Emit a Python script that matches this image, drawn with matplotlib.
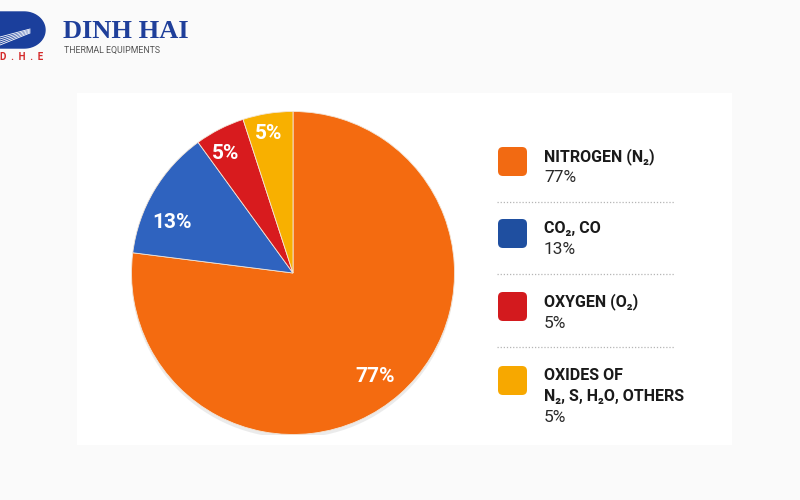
import numpy as np
import matplotlib.pyplot as plt
from matplotlib.patches import FancyBboxPatch, Rectangle, Circle

# Data
labels = ["NITROGEN (N\u2082)", "CO\u2082, CO", "OXYGEN (O\u2082)", "OXIDES OF\nN\u2082, S, H\u2082O, OTHERS"]
shares = [77, 13, 5, 5]
pie_colors = ["#F46B10", "#2F63BF", "#D81B1E", "#F8B000"]
legend_colors = ["#F26A12", "#1F4FA0", "#D31A1E", "#F7A800"]

FONT = ["Roboto", "DejaVu Sans"]
plt.rcParams['font.family'] = FONT

fig = plt.figure(figsize=(8, 5), dpi=100, facecolor="#fafafa")

# overlay in pixel coordinates (y down)
bg = fig.add_axes([0, 0, 1, 1], zorder=0)
bg.set_xlim(0, 800)
bg.set_ylim(500, 0)
bg.axis("off")
bg.add_patch(Rectangle((77, 93), 655, 352, facecolor="white", edgecolor="none"))

# pie: center (293, 273) px, radius 161.5 px
cx, cy, r = 293, 273, 161.5
ax = fig.add_axes([(cx - r) / 800, (500 - cy - r) / 500, 2 * r / 800, 2 * r / 500], zorder=2)
ax.add_patch(Circle((0, -0.022), 1.0, facecolor="#d8d8d8", edgecolor="none", alpha=0.5, zorder=0))
wedges, _ = ax.pie(shares, colors=pie_colors, startangle=90, counterclock=False,
                   wedgeprops=dict(edgecolor="#f3e6d8", linewidth=0.6))
ax.set_xlim(-1, 1)
ax.set_ylim(-1, 1)
ax.set_aspect("equal")
ax.axis("off")

# label placement: radius and angle nudge per slice
label_r = [0.82, 0.81, 0.85, 0.88]
label_shift = [-3, 8, 2.5, 1]
for w, s, lr, sh in zip(wedges, shares, label_r, label_shift):
    mid = np.deg2rad((w.theta1 + w.theta2) / 2 + sh)
    ax.text(lr * np.cos(mid), lr * np.sin(mid), f"{s}%", color="white",
            fontsize=15, fontweight="bold", ha="center", va="center")

# legend
row_tops = [146, 218, 291, 365]
for i, (lab, s, col) in enumerate(zip(labels, shares, legend_colors)):
    top = row_tops[i]
    bg.add_patch(FancyBboxPatch((498, top + 1), 29, 29, boxstyle="round,pad=0,rounding_size=5",
                                facecolor=col, edgecolor="none", zorder=3))
    lines = lab.split("\n")
    for j, ln in enumerate(lines):
        bg.text(544, top + 11 + j * 20, ln, fontsize=11.5, fontweight="bold",
                color="#1a1a1a", ha="left", va="center")
    bg.text(544, top + 11 + len(lines) * 21, f"{s}%", fontsize=12.5,
            color="#2a2a2a", ha="left", va="center")
    if i < len(labels) - 1:
        bg.plot([497, 675], [top + 56, top + 56], color="#b5b5b5", lw=0.9, ls=(0, (1, 1.5)))

# logo
theta = np.linspace(-np.pi / 2, np.pi / 2, 60)
dx = np.concatenate([[-2], 24 + 21 * np.cos(theta), [-2]])
dy = np.concatenate([[48], 30 - 18 * np.sin(theta), [12]])
bg.fill(dx, dy, color="#1B3F9C", zorder=3)
for k in range(5):
    bg.plot([0, 30], [37 + k * 2.0, 29 + k * 1.0], color="white", lw=0.6, zorder=4)
bg.text(22, 57, "D  .  H  .  E", fontsize=7, fontweight="bold", color="#D42A2A",
        ha="center", va="center")
bg.text(63, 31, "DINH HAI", fontsize=19, fontweight="bold", family="Liberation Serif",
        color="#1F3F9A", ha="left", va="center")
bg.text(64, 50, "THERMAL EQUIPMENTS", fontsize=6.3, color="#555555", ha="left", va="center")

fig.savefig("out.png", dpi=100, facecolor=fig.get_facecolor())
